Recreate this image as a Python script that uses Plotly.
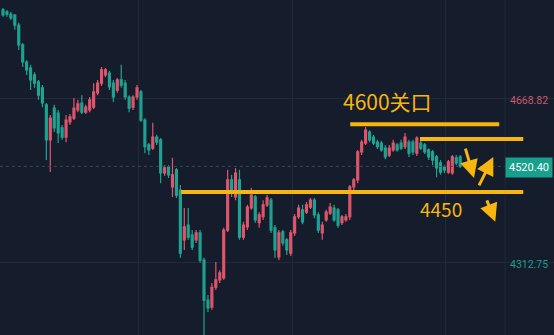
import plotly.graph_objects as go

# ---- data ----
opens = [4860, 4856, 4851, 4849, 4827, 4784, 4747, 4734, 4719, 4704,
         4691, 4654, 4578, 4647, 4636, 4604, 4584, 4617, 4625, 4643,
         4658, 4638, 4643, 4649, 4680, 4701, 4719, 4723, 4701, 4686,
         4708, 4701, 4671, 4649, 4671, 4682, 4621, 4567, 4560, 4584,
         4578, 4506, 4519, 4476, 4513, 4469, 4361, 4393, 4371, 4361,
         4376, 4317, 4230, 4215, 4258, 4274, 4278, 4382, 4491, 4454,
         4491, 4367, 4389, 4430, 4454, 4398, 4411, 4437, 4447, 4387,
         4324, 4378, 4361, 4332, 4376, 4411, 4426, 4421, 4432, 4447,
         4415, 4376, 4404, 4419, 4430, 4426, 4398, 4404, 4411, 4476,
         4491, 4552, 4571, 4595, 4584, 4573, 4571, 4560, 4545, 4556,
         4567, 4571, 4563, 4573, 4573, 4549, 4571, 4567, 4556, 4552,
         4541, 4528, 4519, 4508, 4506, 4539, 4541]
highs = [4864, 4860, 4856, 4851, 4832, 4788, 4751, 4741, 4725, 4708,
         4697, 4658, 4632, 4654, 4643, 4610, 4632, 4634, 4669, 4665,
         4675, 4654, 4671, 4701, 4708, 4736, 4734, 4728, 4708, 4712,
         4741, 4708, 4675, 4675, 4697, 4686, 4625, 4571, 4615, 4589,
         4582, 4523, 4523, 4539, 4517, 4480, 4430, 4430, 4382, 4382,
         4382, 4322, 4241, 4267, 4313, 4295, 4387, 4513, 4502, 4517,
         4513, 4400, 4437, 4474, 4458, 4421, 4447, 4458, 4452, 4393,
         4382, 4382, 4365, 4382, 4417, 4437, 4437, 4443, 4452, 4452,
         4421, 4400, 4426, 4441, 4437, 4430, 4415, 4417, 4480, 4495,
         4556, 4578, 4606, 4599, 4589, 4578, 4576, 4567, 4567, 4578,
         4571, 4578, 4593, 4578, 4578, 4586, 4578, 4571, 4560, 4556,
         4545, 4534, 4523, 4534, 4545, 4545, 4545]
lows = [4845, 4845, 4838, 4817, 4773, 4736, 4719, 4686, 4691, 4665,
        4649, 4534, 4508, 4595, 4571, 4578, 4573, 4610, 4621, 4638,
        4634, 4634, 4638, 4645, 4675, 4695, 4714, 4686, 4660, 4680,
        4691, 4665, 4638, 4643, 4665, 4617, 4549, 4545, 4556, 4567,
        4484, 4500, 4495, 4454, 4452, 4322, 4339, 4361, 4339, 4354,
        4311, 4154, 4204, 4209, 4252, 4267, 4274, 4378, 4454, 4447,
        4361, 4361, 4382, 4426, 4398, 4387, 4404, 4432, 4376, 4322,
        4317, 4348, 4328, 4326, 4369, 4406, 4395, 4417, 4428, 4408,
        4376, 4361, 4400, 4415, 4400, 4387, 4393, 4400, 4404, 4469,
        4484, 4545, 4567, 4573, 4567, 4558, 4552, 4536, 4541, 4552,
        4552, 4556, 4558, 4541, 4545, 4543, 4556, 4547, 4534, 4523,
        4497, 4502, 4506, 4504, 4502, 4523, 4517]
closes = [4849, 4851, 4843, 4827, 4784, 4747, 4730, 4708, 4701, 4675,
          4658, 4578, 4625, 4604, 4593, 4584, 4621, 4628, 4647, 4656,
          4638, 4649, 4665, 4682, 4701, 4730, 4730, 4693, 4671, 4708,
          4697, 4671, 4647, 4671, 4691, 4621, 4563, 4556, 4584, 4573,
          4506, 4517, 4502, 4502, 4458, 4332, 4389, 4367, 4345, 4376,
          4317, 4230, 4213, 4258, 4274, 4289, 4382, 4491, 4463, 4506,
          4367, 4393, 4432, 4458, 4404, 4415, 4437, 4452, 4382, 4339,
          4376, 4354, 4339, 4376, 4411, 4430, 4400, 4437, 4447, 4415,
          4382, 4393, 4421, 4432, 4404, 4393, 4411, 4411, 4476, 4491,
          4552, 4573, 4599, 4578, 4571, 4563, 4556, 4541, 4560, 4571,
          4556, 4560, 4584, 4549, 4552, 4582, 4560, 4552, 4541, 4534,
          4517, 4508, 4513, 4530, 4541, 4528, 4520.4]
idx = list(range(len(opens)))

axis_ticks = [4668.82, 4312.75]
axis_tick_labels = ["4668.82", "4312.75"]
last_price = 4520.40
last_label = "4520.40"

# analyst's drawn levels: (price, start index, end index)
level_prices = [4612, 4580, 4465]
level_starts = [88.1, 105.8, 45.2]
level_ends = [125.9, 132.0, 132.0]
text_main = "4600关口"
text_support = "4450"

# ---- style ----
BG = "#151c2b"
GRID = "#222a3a"
UP = "#e0566c"
DOWN = "#1fa392"
YEL = "#f7b60f"

fig = go.Figure()
fig.add_trace(go.Candlestick(
    x=idx, open=opens, high=highs, low=lows, close=closes,
    increasing=dict(line=dict(color=UP, width=1.2), fillcolor=UP),
    decreasing=dict(line=dict(color=DOWN, width=1.2), fillcolor=DOWN),
    whiskerwidth=0, showlegend=False, hoverinfo="skip",
))

shapes = []
# current price dotted line
shapes.append(dict(type="line", xref="x", yref="y", x0=-0.8, x1=127.4,
                   y0=last_price, y1=last_price,
                   line=dict(color="#3d4759", width=1, dash="dot")))
# separator
shapes.append(dict(type="line", xref="x", yref="paper", x0=127.4, x1=127.4,
                   y0=0, y1=1, line=dict(color=GRID, width=1)))
for p, s, e in zip(level_prices, level_starts, level_ends):
    shapes.append(dict(type="line", xref="x", yref="y", x0=s, x1=e, y0=p, y1=p,
                       line=dict(color=YEL, width=4)))

annotations = []
label_colors = ["#c95a6b", "#1e9e8c"]
for v, t, c in zip(axis_ticks, axis_tick_labels, label_colors):
    annotations.append(dict(xref="paper", yref="y", x=529 / 554, y=v, text=t,
                            showarrow=False, xanchor="center", yanchor="middle",
                            yshift=-2,
                            font=dict(family="Roboto, sans-serif", size=10.5, color=c)))
annotations.append(dict(xref="paper", yref="y", x=529 / 554, y=last_price, text=last_label,
                        showarrow=False, xanchor="center", yanchor="middle",
                        bgcolor="#17a08c", borderpad=3, yshift=-1,
                        font=dict(family="Roboto, sans-serif", size=11, color="#ffffff")))
annotations.append(dict(xref="x", yref="y", x=97.5, y=4662, text=text_main,
                        showarrow=False, xanchor="center", yanchor="middle",
                        font=dict(family="Noto Sans CJK SC", size=21, color=YEL)))
annotations.append(dict(xref="x", yref="y", x=111.2, y=4430, text=text_support,
                        showarrow=False, xanchor="center", yanchor="middle",
                        font=dict(family="Noto Sans CJK SC", size=19, color=YEL)))
# hand-drawn style arrows: (tip x, tip price, tail dx, tail dy in px)
arrows = [(119.5, 4495, -9, -31), (124.4, 4541, -15, 30), (124.9, 4400, -9, -23)]
for ax_, ay_, dx, dy in arrows:
    annotations.append(dict(xref="x", yref="y", x=ax_, y=ay_, ax=dx, ay=dy, text="",
                            showarrow=True, arrowhead=2, arrowsize=1.2,
                            arrowwidth=3, arrowcolor=YEL))

fig.update_layout(
    width=554, height=335, margin=dict(l=0, r=0, t=0, b=0),
    paper_bgcolor=BG, plot_bgcolor=BG,
    xaxis=dict(range=[-0.76, 139.8], tickvals=[34.3, 73.4, 112.2], showticklabels=False,
               showgrid=True, gridcolor=GRID, zeroline=False, rangeslider=dict(visible=False),
               fixedrange=True),
    yaxis=dict(range=[4154.3, 4881.6], tickvals=axis_ticks, showticklabels=False,
               showgrid=True, gridcolor=GRID, zeroline=False, fixedrange=True),
    shapes=shapes, annotations=annotations, showlegend=False,
)

fig.write_html("out.html", config={"displayModeBar": False})
